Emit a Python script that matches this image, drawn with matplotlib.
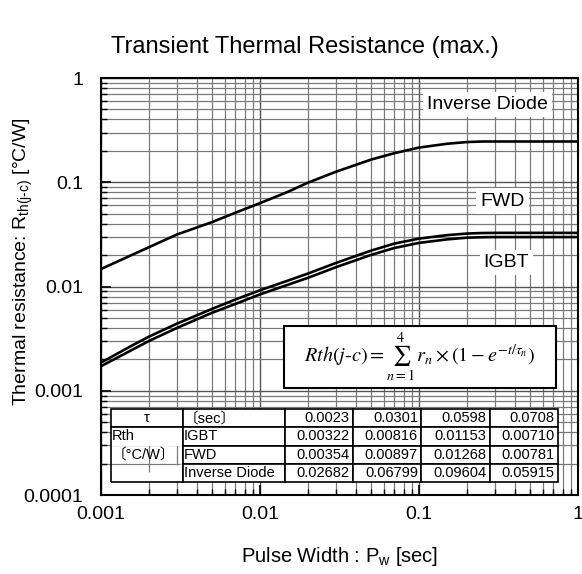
import matplotlib
matplotlib.use('Agg')
import matplotlib.pyplot as plt
from matplotlib.patches import Rectangle
from matplotlib.ticker import LogLocator, NullFormatter, FixedLocator

plt.rcParams['font.family'] = ['Liberation Sans', 'Noto Sans CJK JP', 'DejaVu Sans']
plt.rcParams['mathtext.fontset'] = 'custom'
plt.rcParams['mathtext.rm'] = 'Liberation Sans'
plt.rcParams['mathtext.it'] = 'Liberation Sans:italic'

# pulse width [sec]
pulse_width = [0.001, 0.0015, 0.002, 0.003, 0.005, 0.007, 0.01, 0.015, 0.02, 0.03,
               0.05, 0.07, 0.1, 0.15, 0.2, 0.25, 0.3, 0.5, 1.0]
# Rth [degC/W]
rth_igbt = [0.00172, 0.00238, 0.0030, 0.0040, 0.0056, 0.0068, 0.0084, 0.0104, 0.0121, 0.0153,
            0.0201, 0.0234, 0.0262, 0.0283, 0.0294, 0.0297, 0.0298, 0.0298, 0.0298]
rth_fwd = [0.00186, 0.00262, 0.0033, 0.0044, 0.0061, 0.0075, 0.0092, 0.0114, 0.0133, 0.0168,
           0.0221, 0.0258, 0.0288, 0.0311, 0.0322, 0.0326, 0.0327, 0.0327, 0.0327]
rth_diode = [0.0147, 0.0195, 0.0238, 0.0315, 0.0415, 0.051, 0.063, 0.081, 0.099, 0.126,
             0.165, 0.190, 0.215, 0.234, 0.243, 0.246, 0.246, 0.246, 0.246]

# foster model table
tau_row = ['0.0023', '0.0301', '0.0598', '0.0708']
igbt_row = ['0.00322', '0.00816', '0.01153', '0.00710']
fwd_row = ['0.00354', '0.00897', '0.01268', '0.00781']
diode_row = ['0.02682', '0.06799', '0.09604', '0.05915']

fig = plt.figure(figsize=(5.82, 5.74), dpi=100)
ax = fig.add_axes([0.1735, 0.1376, 0.8195, 0.7265])

ax.set_xscale('log')
ax.set_yscale('log')
ax.set_xlim(0.001, 1)
ax.set_ylim(0.0001, 1)

# curves
ax.plot(pulse_width, rth_diode, color='black', lw=1.9, zorder=3)
ax.plot(pulse_width, rth_fwd, color='black', lw=1.9, zorder=3)
ax.plot(pulse_width, rth_igbt, color='black', lw=1.9, zorder=3)

# grid
ax.set_axisbelow(True)
ax.xaxis.set_major_locator(FixedLocator([0.001, 0.01, 0.1, 1]))
ax.yaxis.set_major_locator(FixedLocator([0.0001, 0.001, 0.01, 0.1, 1]))
ax.xaxis.set_minor_locator(LogLocator(base=10, subs=range(2, 10)))
ax.yaxis.set_minor_locator(LogLocator(base=10, subs=range(2, 10)))
ax.xaxis.set_minor_formatter(NullFormatter())
ax.yaxis.set_minor_formatter(NullFormatter())
ax.grid(True, which='major', color='#555555', lw=1.0)
ax.grid(True, which='minor', color='#7a7a7a', lw=0.9)

ax.set_xticklabels(['0.001', '0.01', '0.1', '1'])
ax.set_yticklabels(['0.0001', '0.001', '0.01', '0.1', '1'])
ax.tick_params(which='both', direction='in', color='black')
ax.tick_params(which='major', length=7, width=1.2)
ax.tick_params(which='minor', length=4, width=1.0)
ax.tick_params(axis='x', which='major', labelsize=14, pad=8)
ax.tick_params(axis='y', which='major', labelsize=14, pad=13)
for s in ax.spines.values():
    s.set_linewidth(1.5)

fig.text(0.524, 0.918, 'Transient Thermal Resistance (max.)', fontsize=17,
         ha='center', va='center')
ax.set_xlabel('Pulse Width : P$_\\mathrm{w}$ [sec]', fontsize=14.5, labelpad=16)
ax.set_ylabel('Thermal resistance: R$_\\mathrm{th(j\\text{-}c)}$ [°C/W]', fontsize=14)
ax.yaxis.set_label_coords(-0.138, 0.559)

# curve labels
lbl_box = dict(facecolor='white', edgecolor='none', pad=3)
ax.text(0.27, 0.56, 'Inverse Diode', fontsize=14, ha='center', va='center', bbox=lbl_box, zorder=4)
ax.text(0.335, 0.066, 'FWD', fontsize=14, ha='center', va='center', bbox=lbl_box, zorder=4)
ax.text(0.355, 0.0171, 'IGBT', fontsize=14, ha='center', va='center', bbox=lbl_box, zorder=4)

# formula box
ax.add_patch(Rectangle((0.3836, 0.2566), 0.5704, 0.1487, transform=ax.transAxes,
                       facecolor='white', edgecolor='black', lw=1.5, zorder=4))
ax.text(0.669, 0.331,
        r'$Rth(j\text{-}c) = \sum_{n=1}^{4}\, r_n \times \left(1 - e^{-t/\tau_n}\right)$',
        transform=ax.transAxes, fontsize=14.5, ha='center', va='center', zorder=5,
        math_fontfamily='stix')

# parameter table
cells = [['τ', '〔sec〕'] + tau_row,
         ['Rth', 'IGBT'] + igbt_row,
         ['〔°C/W〕', 'FWD'] + fwd_row,
         ['', 'Inverse Diode'] + diode_row]
col_w = [0.161, 0.228, 0.1527, 0.1527, 0.1527, 0.1527]
tbl = ax.table(cellText=cells, colWidths=col_w, bbox=[0.0203, 0.0312, 0.938, 0.175])
tbl.auto_set_font_size(False)
tbl.set_fontsize(10.5)
tbl.set_zorder(5)
edges = {0: 'closed', 1: 'TLR', 2: 'LR', 3: 'BLR'}
for (r, c), cell in tbl.get_celld().items():
    cell.set_linewidth(1.2)
    cell.set_facecolor('white')
    if c == 0:
        cell.visible_edges = edges[r]
        if r == 0:
            cell._loc = 'center'
            cell.set_text_props(ha='center')
        else:
            cell._loc = 'left'
            cell.PAD = 0.02
            cell.set_text_props(ha='left')
    elif c == 1:
        cell._loc = 'left'
        cell.PAD = 0.01
        cell.set_text_props(ha='left')
    else:
        cell._loc = 'right'
        cell.PAD = 0.05

fig.savefig('out.png', dpi=100)
